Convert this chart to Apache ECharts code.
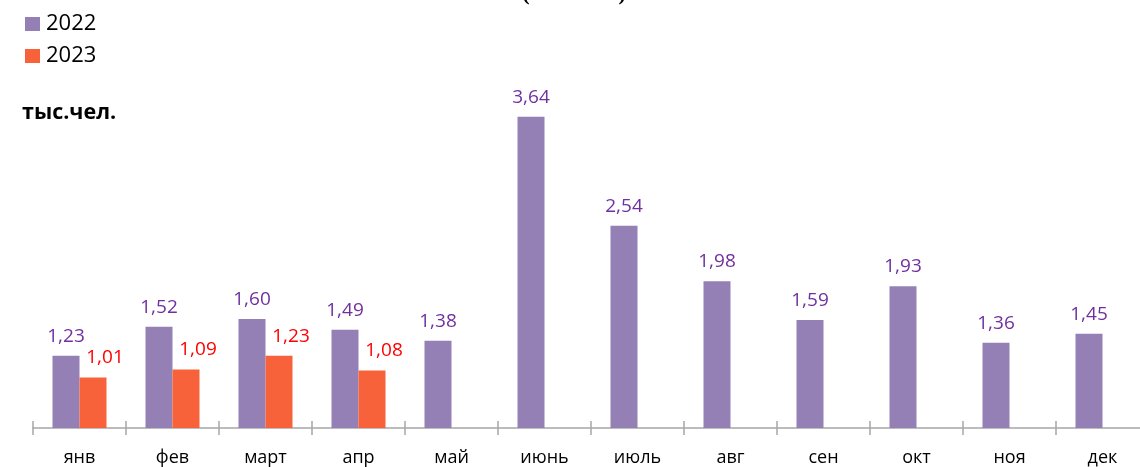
<!DOCTYPE html>
<html>
<head>
<meta charset="utf-8">
<script src="https://cdn.jsdelivr.net/npm/echarts@6/dist/echarts.min.js"></script>
<style>
html,body{margin:0;padding:0;background:#fff;overflow:hidden;}
#chart{width:1149px;height:467px;}
</style>
</head>
<body>
<div id="chart"></div>
<script>
const months = ['янв','фев','март','апр','май','июнь','июль','авг','сен','окт','ноя','дек'];
const seriesNames = ['2022','2023'];
const values2022 = [1.23,1.52,1.60,1.49,1.38,3.64,2.54,1.98,1.59,1.93,1.36,1.45];
const values2023 = [1.01,1.09,1.23,1.08,null,null,null,null,null,null,null,null];
const unitLabel = 'тыс.чел.';
const titleText = '(тыс. чел.)';

const FONT = 'Open Sans';
const fmt = p => p.value == null ? '' : p.value.toFixed(2).replace('.', ',');

const chart = echarts.init(document.getElementById('chart'));
chart.setOption({
  animation: false,
  backgroundColor: '#ffffff',
  textStyle: { fontFamily: FONT },
  legend: {
    orient: 'vertical',
    left: 20,
    top: 8,
    itemWidth: 15,
    itemHeight: 14,
    itemGap: 10,
    icon: 'rect',
    data: seriesNames,
    textStyle: { fontFamily: FONT, fontSize: 22, color: '#000', padding: [0,0,0,1] }
  },
  graphic: [
    { type: 'text', left: 22, top: 102, style: { text: unitLabel, fontFamily: FONT, fontSize: 21.5, fontWeight: 'bold', fill: '#000' } },
    { type: 'text', x: 574, y: -6, style: { text: titleText, fontFamily: 'Liberation Serif', fontSize: 22, fontWeight: 'bold', fill: '#000', align: 'center', verticalAlign: 'middle' } }
  ],
  grid: { left: 33, right: 0, top: 81, bottom: 39, containLabel: false },
  xAxis: [
    {
      type: 'category',
      data: months,
      position: 'bottom',
      axisLine: { lineStyle: { color: '#A6A6A6', width: 1.5 } },
      axisTick: { show: true, length: 7, interval: 0, lineStyle: { color: '#A6A6A6', width: 1.5 } },
      axisLabel: { interval: 0, margin: 21, fontFamily: FONT, fontSize: 18, color: '#000' }
    },
    {
      type: 'category',
      data: months,
      position: 'bottom',
      axisLine: { show: false },
      axisTick: { show: true, inside: true, length: 7, interval: 0, lineStyle: { color: '#A6A6A6', width: 1.5 } },
      axisLabel: { show: false }
    }
  ],
  yAxis: { type: 'value', min: 0.5, max: 4, show: false, splitLine: { show: false } },
  series: [
    {
      name: seriesNames[0], type: 'bar', data: values2022, xAxisIndex: 0,
      barWidth: 27, barGap: '0%',
      itemStyle: { color: '#9580B5' },
      label: { show: true, position: 'top', distance: 10, formatter: fmt, fontFamily: FONT, fontSize: 19, color: '#7030A0' }
    },
    {
      name: seriesNames[1], type: 'bar', data: values2023, xAxisIndex: 0,
      barWidth: 27, barGap: '0%',
      itemStyle: { color: '#F8623A' },
      label: { show: true, position: 'top', distance: 10, offset: [12, 0], formatter: fmt, fontFamily: FONT, fontSize: 19, color: '#FF0000' }
    }
  ]
});
</script>
</body>
</html>
